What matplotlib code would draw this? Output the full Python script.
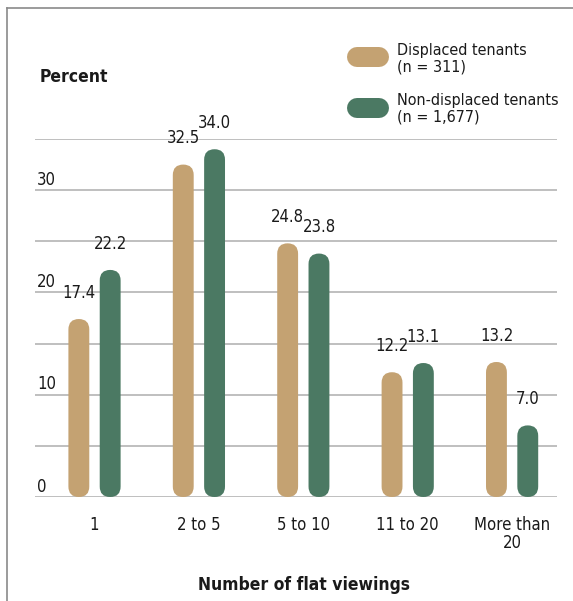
import matplotlib
matplotlib.use("Agg")
import matplotlib.pyplot as plt
from matplotlib import font_manager
from matplotlib.patches import FancyBboxPatch
from matplotlib.lines import Line2D
import numpy as np

categories = ["1", "2 to 5", "5 to 10", "11 to 20", "More than\n20"]
displaced = [17.4, 32.5, 24.8, 12.2, 13.2]
non_displaced = [22.2, 34.0, 23.8, 13.1, 7.0]
series_names = ["Displaced tenants\n(n = 311)", "Non-displaced tenants\n(n = 1,677)"]
y_ticks = [0, 10, 20, 30]

TAN = "#c4a272"
GREEN = "#4b7963"
GRID = "#b4b4b4"
TXT = "#1a1a1a"

names = {f.name for f in font_manager.fontManager.ttflist}
if "Liberation Sans Narrow" in names:
    plt.rcParams["font.family"] = ["Liberation Sans Narrow", "DejaVu Sans"]
else:
    plt.rcParams["font.family"] = ["DejaVu Sans"]
    plt.rcParams["font.stretch"] = "condensed"

W, H = 573, 601
fig = plt.figure(figsize=(W / 100, H / 100), dpi=100)
ax = fig.add_axes([35 / W, (H - 497) / H, 522 / W, 358 / H])

x = np.arange(len(categories))
bw = 0.2
off = 0.15
ax.set_xlim(-0.57, 4.43)
ax.set_ylim(0, 35)

# gridlines
for g in range(0, 40, 5):
    ax.axhline(g, color=GRID, lw=1.2, zorder=0)

# rounded bars
px = 522 / (4.43 + 0.57)
py = 358 / 35
asp = px / py
for vals, dx, col in [(displaced, -off, TAN), (non_displaced, off, GREEN)]:
    for xi, v in zip(x, vals):
        p = FancyBboxPatch((xi + dx - bw / 2, 0), bw, v,
                           boxstyle=f"round,pad=0,rounding_size={bw / 2}",
                           mutation_aspect=asp, fc=col, ec="none", zorder=2)
        ax.add_patch(p)
        ax.annotate(f"{v:.1f}", (xi + dx, v), xytext=(0, 19), textcoords="offset points",
                    ha="center", va="center", fontsize=12, color=TXT, zorder=3)

# y tick labels sitting above the gridlines
for t in y_ticks:
    ax.annotate(str(t), (0.004, t), xycoords=("axes fraction", "data"),
                xytext=(0, 7.5), textcoords="offset points",
                ha="left", va="center", fontsize=12, color=TXT)

ax.set_yticks([])
ax.set_xticks(x)
ax.set_xticklabels(categories, fontsize=12, color=TXT, linespacing=1.0)
ax.tick_params(axis="x", length=0, pad=14)
for s in ax.spines.values():
    s.set_visible(False)

fig.text(303.5 / W, 1 - 585 / H, "Number of flat viewings", fontsize=12.5,
         fontweight="bold", ha="center", va="center", color=TXT)
fig.text(40 / W, 1 - 77 / H, "Percent", fontsize=12.5, fontweight="bold",
         va="center", ha="left", color=TXT)

# legend
for i, (name, col) in enumerate(zip(series_names, [TAN, GREEN])):
    yc = 57 + i * 50.5
    fig.add_artist(Line2D([357 / W, 379 / W], [1 - yc / H, 1 - yc / H], color=col,
                          lw=14.4, solid_capstyle="round"))
    fig.text(397 / W, 1 - (43 + i * 50) / H, name, fontsize=11.5, va="top", ha="left",
             linespacing=1.1, color=TXT)

# frame lines
fig.add_artist(Line2D([7 / W, 7 / W], [0, 1 - 8 / H], color="#8a8a8a", lw=1.2))
fig.add_artist(Line2D([7 / W, 1], [1 - 8 / H, 1 - 8 / H], color="#8a8a8a", lw=1.2))

fig.savefig("out.png", dpi=100)
